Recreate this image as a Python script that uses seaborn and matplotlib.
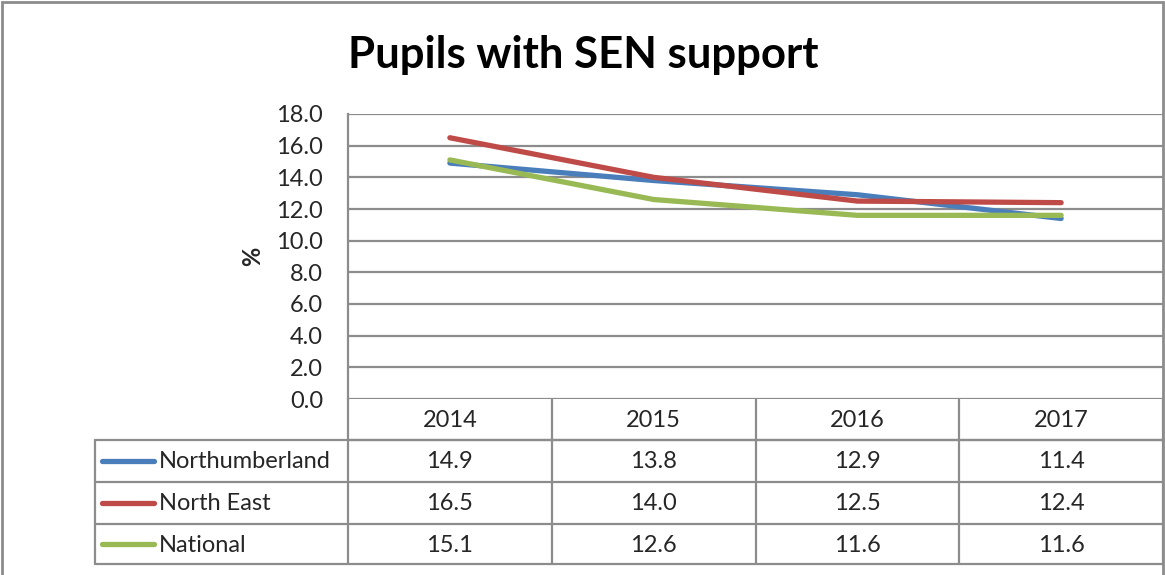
import pandas as pd
import matplotlib.pyplot as plt
import seaborn as sns

# ---------------------------------------------------------------------------
# Data
# ---------------------------------------------------------------------------
years = ["2014", "2015", "2016", "2017"]
northumberland = [14.9, 13.8, 12.9, 11.4]
north_east = [16.5, 14.0, 12.5, 12.4]
national = [15.1, 12.6, 11.6, 11.6]

series_names = ["Northumberland", "North East", "National"]
series_colors = ["#4A7EBB", "#BE4B48", "#98B954"]
y_ticks = [0.0, 2.0, 4.0, 6.0, 8.0, 10.0, 12.0, 14.0, 16.0, 18.0]

df = pd.DataFrame({
    "year": years * 3,
    "value": northumberland + north_east + national,
    "series": [s for s in series_names for _ in years],
})
df["pos"] = df["year"].map({y: i for i, y in enumerate(years)})

# ---------------------------------------------------------------------------
# Figure layout (pixel based, 1165 x 575)
# ---------------------------------------------------------------------------
W, H = 1165, 575
sns.set_style("white")
plt.rcParams["font.family"] = ["Lato", "DejaVu Sans"]

fig = plt.figure(figsize=(W / 100, H / 100), dpi=100)
GRID = "#8C8C8C"
FS = 17

# outer chart border
fig.patches.append(plt.Rectangle((1.5 / W, -0.01), (1162.5 - 1.5) / W, 1 - 1.5 / H + 0.01,
                                 transform=fig.transFigure, fill=False,
                                 edgecolor=GRID, linewidth=2))

left, right, top, bottom = 348, 1163, 114, 399
ax = fig.add_axes([left / W, 1 - bottom / H, (right - left) / W, (bottom - top) / H])

sns.lineplot(data=df, x="pos", y="value", hue="series", hue_order=series_names,
             palette=series_colors, linewidth=3.8, legend=False, ax=ax,
             solid_capstyle="round")

ax.set_xlim(-0.5, len(years) - 0.5)
ax.set_ylim(0, 18)
ax.set_yticks(y_ticks)
ax.set_yticklabels([f"{t:.1f}" for t in y_ticks], fontsize=FS)
ax.set_xticks([])
ax.set_xlabel("")
ax.set_ylabel("%", fontsize=FS, fontweight="bold")
ax.yaxis.set_label_coords((264 - left) / (right - left), 0.5)
ax.tick_params(axis="y", length=0, pad=18)
for y in y_ticks:
    ax.axhline(y, color=GRID, linewidth=1.6, zorder=0)
for side in ["top", "bottom", "right"]:
    ax.spines[side].set_visible(False)
ax.spines["left"].set_color(GRID)
ax.spines["left"].set_linewidth(1.6)

fig.text(583 / W, 1 - 55 / H, "Pupils with SEN support", ha="center", va="center",
         fontsize=31.5, fontweight="bold", color="black")

# ---------------------------------------------------------------------------
# Data table under the plot
# ---------------------------------------------------------------------------
tab = fig.add_axes([0, 0, 1, 1], facecolor="none")
tab.set_xlim(0, W)
tab.set_ylim(H, 0)
tab.axis("off")

col_w = (right - left) / len(years)
row_edges = [399, 440, 482, 524, 564]
label_left = 95

lw = 1.6
# header row
tab.plot([left, right], [row_edges[1]] * 2, color=GRID, lw=lw)
for i in range(len(years) + 1):
    x = left + i * col_w
    tab.plot([x, x], [row_edges[0], row_edges[-1]], color=GRID, lw=lw)
for r in row_edges[1:]:
    tab.plot([label_left, right], [r, r], color=GRID, lw=lw)
tab.plot([label_left, label_left], [row_edges[1], row_edges[-1]], color=GRID, lw=lw)

for i, yr in enumerate(years):
    tab.text(left + (i + 0.5) * col_w, (row_edges[0] + row_edges[1]) / 2 + 1, yr,
             ha="center", va="center", fontsize=FS)

all_values = [northumberland, north_east, national]
for r, (name, color, vals) in enumerate(zip(series_names, series_colors, all_values)):
    yc = (row_edges[r + 1] + row_edges[r + 2]) / 2
    tab.plot([102, 154], [yc, yc], color=color, lw=3.8, solid_capstyle="round")
    tab.text(159, yc + 1, name, ha="left", va="center", fontsize=FS)
    for i, v in enumerate(vals):
        tab.text(left + (i + 0.5) * col_w, yc + 1, f"{v:.1f}",
                 ha="center", va="center", fontsize=FS)

fig.savefig("out.png", dpi=100)
